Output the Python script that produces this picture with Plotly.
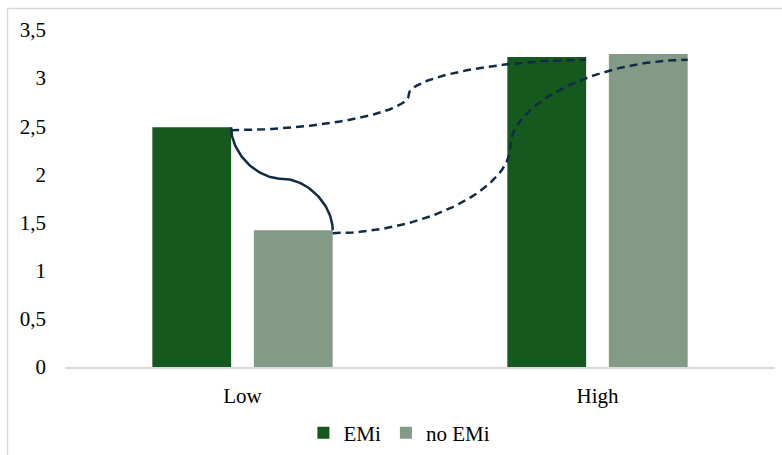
import numpy as np
import plotly.graph_objects as go

# ---- data ----
categories = ["Low", "High"]
cat_pos = [0, 1]
emi_values = [2.49, 3.22]
no_emi_values = [1.42, 3.25]
series_names = ["EMi", "no EMi"]
y_tick_vals = [0, 0.5, 1, 1.5, 2, 2.5, 3, 3.5]

# ---- style ----
C_EMI = "#16591f"
C_NO = "#839b86"
C_LINE = "#112b47"
BAR_W = 0.222
OFF_EMI = -0.254
OFF_NO = 0.032
FONT = "Liberation Serif"

fig = go.Figure()
fig.add_trace(go.Bar(x=cat_pos, y=emi_values, name=series_names[0], marker_color=C_EMI,
                     width=BAR_W, offset=OFF_EMI, marker_line_width=0))
fig.add_trace(go.Bar(x=cat_pos, y=no_emi_values, name=series_names[1], marker_color=C_NO,
                     width=BAR_W, offset=OFF_NO, marker_line_width=0))


def bez(p0, p1, p2, p3, n=40):
    t = np.linspace(0, 1, n)[:, None]
    pts = ((1 - t) ** 3) * np.array(p0) + 3 * ((1 - t) ** 2) * t * np.array(p1) \
        + 3 * (1 - t) * t ** 2 * np.array(p2) + t ** 3 * np.array(p3)
    return pts


def connector(a, b, horizontal=True):
    (x0, y0), (x1, y1) = a, b
    xm, ym = (x0 + x1) / 2, (y0 + y1) / 2
    if horizontal:
        s1 = bez((x0, y0), ((x0 + xm) / 2, y0), (xm, y0 + (y1 - y0) / 4), (xm, ym))
        s2 = bez((xm, ym), (xm, y0 + 3 * (y1 - y0) / 4), ((xm + x1) / 2, y1), (x1, y1))
    else:
        s1 = bez((x0, y0), (x0, (y0 + ym) / 2), (x0 + (x1 - x0) / 4, ym), (xm, ym))
        s2 = bez((xm, ym), (x0 + 3 * (x1 - x0) / 4, ym), (x1, (ym + y1) / 2), (x1, y1))
    pts = np.vstack([s1, s2])
    return pts[:, 0], pts[:, 1]


emi_right = [p + OFF_EMI + BAR_W for p in cat_pos]
no_right = [p + OFF_NO + BAR_W for p in cat_pos]
DROP = 0.03  # connectors attach just below the bar tops

# solid: Low EMi -> Low no EMi
xs, ys = connector((emi_right[0], emi_values[0]), (no_right[0], no_emi_values[0]), horizontal=False)
fig.add_trace(go.Scatter(x=xs, y=ys, mode="lines", line=dict(color=C_LINE, width=2.5),
                         showlegend=False, hoverinfo="skip"))
# dashed: Low EMi -> High EMi
xs, ys = connector((emi_right[0], emi_values[0] - DROP), (emi_right[1], emi_values[1] - DROP))
fig.add_trace(go.Scatter(x=xs, y=ys, mode="lines", line=dict(color=C_LINE, width=2.5, dash="8px,5px"),
                         showlegend=False, hoverinfo="skip"))
# dashed: Low no EMi -> High no EMi
xs, ys = connector((no_right[0], no_emi_values[0] - DROP), (no_right[1], no_emi_values[1] - 2 * DROP))
fig.add_trace(go.Scatter(x=xs, y=ys, mode="lines", line=dict(color=C_LINE, width=2.5, dash="8px,5px"),
                         showlegend=False, hoverinfo="skip"))

fig.update_layout(
    width=782, height=455,
    margin=dict(l=65, r=7, t=30, b=88, autoexpand=False),
    paper_bgcolor="white", plot_bgcolor="white",
    font=dict(family=FONT, size=21, color="#000000"),
    separators=",.",
    showlegend=True,
    legend=dict(orientation="h", x=0.471, xanchor="center", y=-0.196, yanchor="middle",
                font=dict(family=FONT, size=21, color="#000000"), traceorder="normal"),
    xaxis=dict(range=[-0.5, 1.5], tickvals=cat_pos, ticktext=categories, showgrid=False,
               zeroline=False, showline=True, linecolor="#d9d9d9", linewidth=1.5,
               ticks="", ticklabelstandoff=9, fixedrange=True, automargin=False),
    yaxis=dict(range=[0, 3.5], tickvals=y_tick_vals, showgrid=False, zeroline=False,
               showline=False, ticks="", ticklabelstandoff=18, fixedrange=True, automargin=False),
    shapes=[dict(type="rect", xref="paper", yref="paper",
                 x0=(7.5 - 65) / 710, x1=(800 - 65) / 710,
                 y0=(367 - 480) / 337, y1=(367 - 8.5) / 337,
                 line=dict(color="#d9d9d9", width=1.5), fillcolor="rgba(0,0,0,0)", layer="below")],
)

fig.write_html("out.html")
